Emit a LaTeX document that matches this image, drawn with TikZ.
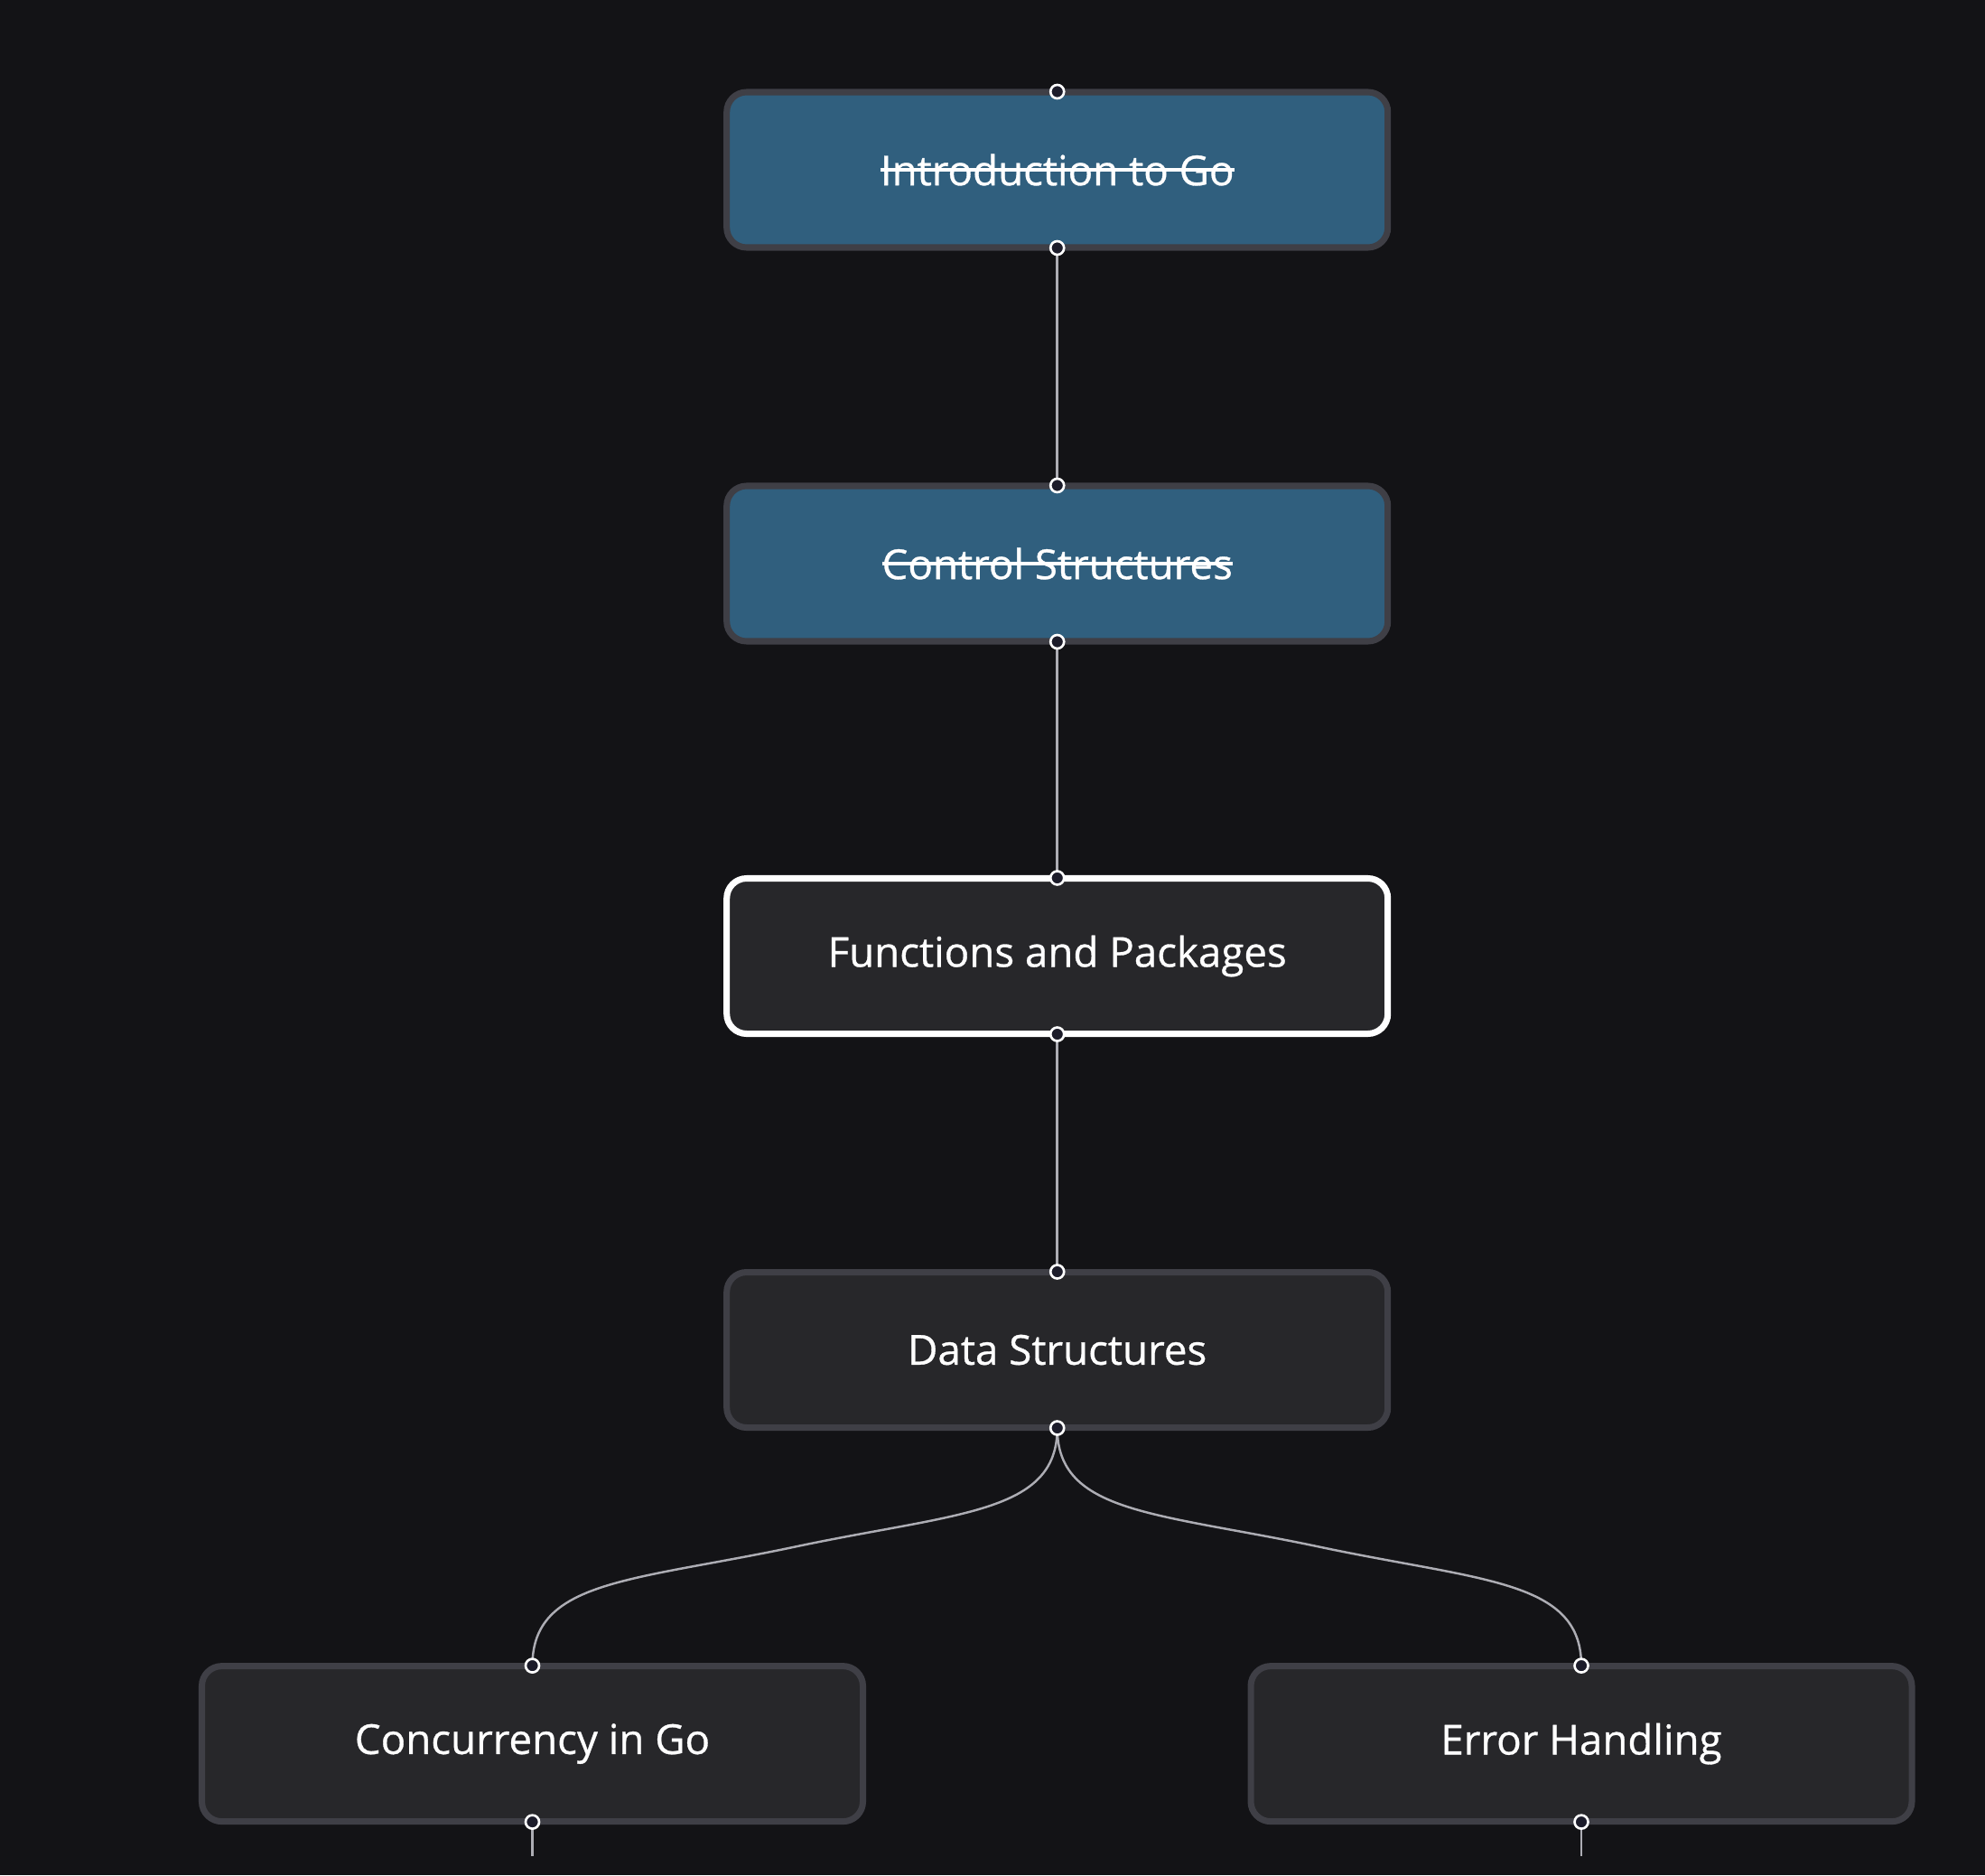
\documentclass[tikz,border=0pt]{standalone}
\usepackage{fontspec}
\setmainfont{Open Sans}[FakeBold=0.7]
\usetikzlibrary{calc}
\definecolor{bg}{HTML}{131316}
\definecolor{bluefill}{HTML}{305F7E}
\definecolor{darkfill}{HTML}{27272A}
\definecolor{boxborder}{HTML}{3F3F46}
\definecolor{edgecol}{HTML}{ADADB4}
\definecolor{portfill}{HTML}{1C1C2A}
\newcommand\strk[1]{\leavevmode\setbox0\hbox{#1}\rlap{\raisebox{0.34em}{\rule{\wd0}{0.07em}}}\box0}
\tikzset{
  topic/.style={rectangle, rounded corners=0.22cm, minimum width=7.32cm, minimum height=1.72cm,
    line width=2pt, draw=boxborder, fill=darkfill, text=white, inner sep=0pt,
    font=\fontsize{13}{15}\selectfont},
  donetopic/.style={topic, fill=bluefill},
  activetopic/.style={topic, draw=white},
  port/.style={circle, draw=white, fill=portfill, line width=0.75pt, minimum size=0.15cm, inner sep=0pt},
  edge/.style={draw=edgecol, line width=0.7pt}
}
\begin{document}
\begin{tikzpicture}
\fill[bg] (0,0) rectangle (21.98,-20.76);
\useasboundingbox (0,0) rectangle (21.98,-20.76);

\node[donetopic] (intro) at (11.707,-1.88) {\strk{Introduction to Go}};
\node[donetopic] (control) at (11.707,-6.24) {\strk{Control Structures}};
\node[activetopic] (func) at (11.707,-10.585) {Functions and Packages};
\node[topic] (data) at (11.707,-14.945) {Data Structures};
\node[topic] (conc) at (5.895,-19.306) {Concurrency in Go};
\node[topic] (err) at (17.51,-19.306) {Error Handling};

\coordinate (concend) at (5.895,-20.55);
\coordinate (errend) at (17.51,-20.55);

% port positions
\foreach \n in {intro,control,func,data,conc,err}{
  \coordinate (\n t) at ($(\n.north)+(0,-0.03)$);
  \coordinate (\n b) at ($(\n.south)+(0,0.03)$);
}

% connectors
\draw[edge] (introb) -- (controlt);
\draw[edge] (controlb) -- (funct);
\draw[edge] (funcb) -- (datat);
\coordinate (midl) at ($(datab)!0.5!(conct)$);
\coordinate (midr) at ($(datab)!0.5!(errt)$);
\draw[edge] (datab) .. controls +(0,-0.95) and +(1.8,0.38) .. (midl)
  .. controls +(-1.8,-0.38) and +(0,0.95) .. (conct);
\draw[edge] (datab) .. controls +(0,-0.95) and +(-1.8,0.38) .. (midr)
  .. controls +(1.8,-0.38) and +(0,0.95) .. (errt);
\draw[edge] (concb) -- (concend);
\draw[edge] (errb) -- (errend);

% ports
\foreach \n in {intro,control,func,data,conc,err}{
  \node[port] (\n pt) at (\n t) {};
  \node[port] (\n pb) at (\n b) {};
}
\end{tikzpicture}
\end{document}
